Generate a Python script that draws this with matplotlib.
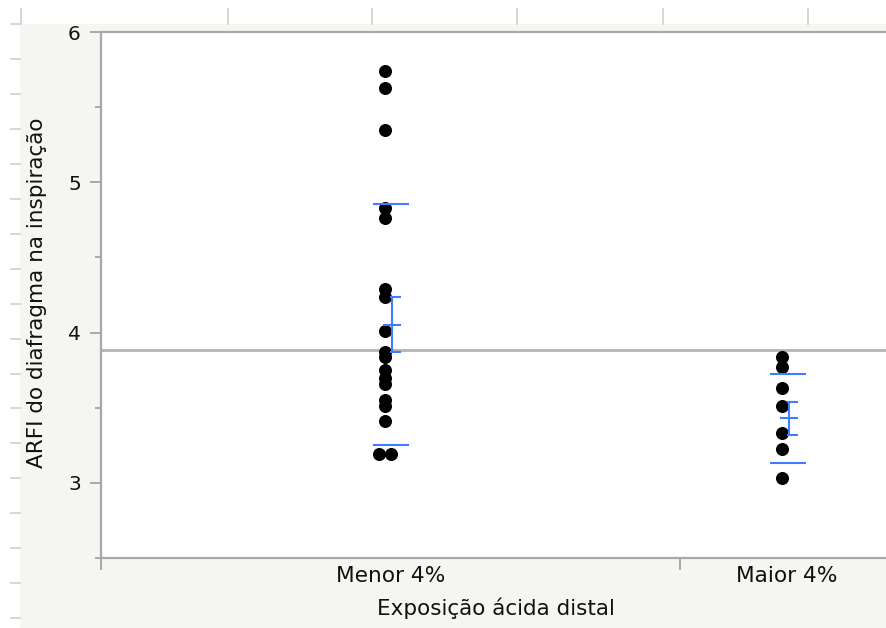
import numpy as np
import matplotlib.pyplot as plt
from matplotlib.lines import Line2D
from matplotlib.patches import Rectangle

# values
groups = ["Menor 4%", "Maior 4%"]
menor = [5.74, 5.63, 5.35, 4.83, 4.76, 4.29, 4.24, 4.01, 3.87, 3.84,
         3.75, 3.70, 3.66, 3.55, 3.51, 3.41, 3.19, 3.19]
maior = [3.84, 3.77, 3.63, 3.51, 3.335, 3.225, 3.035]
group_means = [4.053, 3.429]
group_se = [0.183, 0.111]
group_sd = [0.80, 0.295]
grand_mean = 3.887

W, H = 886, 628
fig = plt.figure(figsize=(W / 100, H / 100), dpi=100)
fig.patch.set_facecolor("white")


def fx(px):
    return px / W


def fy(py):
    return 1 - py / H


panel = "#f5f5f1"
fig.patches.append(Rectangle((fx(20), 0), 1, fy(24), transform=fig.transFigure,
                             facecolor=panel, edgecolor="none", zorder=-10))

# leftover frame ticks from the neighbouring panels
frame_col = "#cfcfcf"
for px in [21, 228, 372, 517, 663, 808]:
    fig.add_artist(Line2D([fx(px), fx(px)], [fy(9), fy(24)], transform=fig.transFigure,
                          color=frame_col, lw=1.2))
for k in range(18):
    py = 24 + 34.95 * k
    fig.add_artist(Line2D([fx(11), fx(20)], [fy(py), fy(py)], transform=fig.transFigure,
                          color=frame_col, lw=1.2))

ax = fig.add_axes([fx(101), fy(558), 1 - fx(101), fy(32) - fy(558)])
ax.set_facecolor("white")
unit = 397.0
xmin = (101 - 385) / unit
xmax = (886 - 385) / unit
ax.set_xlim(xmin, xmax)
ax.set_ylim(2.5, 6)

axis_col = "#a8a8a8"
text_col = "#111111"
for s in ["left", "bottom", "top"]:
    ax.spines[s].set_color(axis_col)
    ax.spines[s].set_linewidth(1.6)
ax.spines["right"].set_visible(False)

# y axis
ax.set_yticks([3, 4, 5, 6])
ax.set_yticks([2.5, 3.5, 4.5, 5.5], minor=True)
ax.tick_params(axis="y", which="major", length=8, width=1.4, color=axis_col,
               pad=6.5, labelsize=14.5, labelcolor=text_col)
ax.tick_params(axis="y", which="minor", length=4.3, width=1.4, color=axis_col)

# x axis: separators as major ticks, group names as minor ticks
sep = (680 - 385) / unit
ax.set_xticks([xmin, sep], ["", ""])
ax.set_xticks([0.014, 1.012], groups, minor=True)
ax.tick_params(axis="x", which="major", length=8.6, width=1.4, color=axis_col)
ax.tick_params(axis="x", which="minor", length=0, pad=5.5, labelsize=15.6,
               labelcolor=text_col)

ax.set_xlabel("Exposição ácida distal", fontsize=15.5, color=text_col)
ax.xaxis.label.set_va("top")
ax.xaxis.set_label_coords(0.503, -0.076)
ax.set_ylabel("ARFI do diafragma na inspiração", fontsize=15.5, color=text_col)
ax.yaxis.set_label_coords(-0.069, 0.504)

# grand mean
ax.axhline(grand_mean, color="#b4b4b4", lw=2.0, zorder=1)

# points
blue = "#3d7dff"
for i, vals in enumerate([menor, maior]):
    vals = np.array(vals)
    xs = np.full(len(vals), float(i))
    for v in np.unique(vals):
        idx = np.where(vals == v)[0]
        if len(idx) > 1:
            xs[idx] = i + (np.arange(len(idx)) - (len(idx) - 1) / 2) * 0.03
    ax.scatter(xs, vals, s=88, color="black", zorder=3, linewidths=0)

    m, se, sd = group_means[i], group_se[i], group_sd[i]
    # std dev lines
    ax.hlines([m + sd, m - sd], i - 0.030, i + 0.061, color=blue, lw=1.5, zorder=4)
    # mean and standard error bars
    ax.hlines(m, i - 0.005, i + 0.040, color=blue, lw=1.5, zorder=4)
    ax.vlines(i + 0.018, m - se, m + se, color=blue, lw=1.5, zorder=4)
    ax.hlines([m + se, m - se], i + 0.012, i + 0.040, color=blue, lw=1.5, zorder=4)

fig.savefig("out.png", dpi=100, facecolor=fig.get_facecolor())
